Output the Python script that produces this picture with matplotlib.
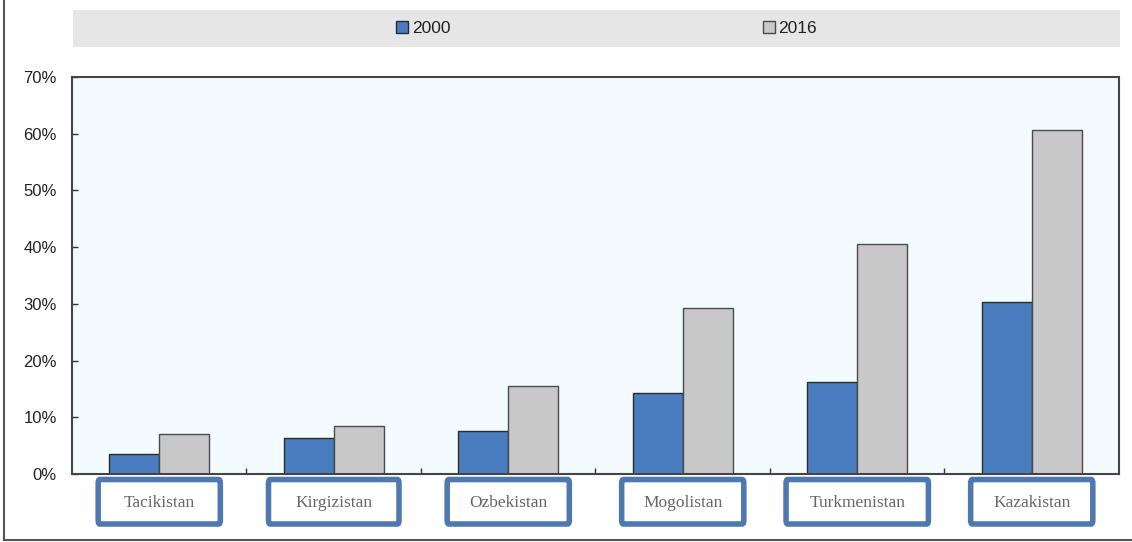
import matplotlib
matplotlib.use("Agg")
import matplotlib.pyplot as plt
import numpy as np
from matplotlib.patches import Rectangle, FancyBboxPatch
from matplotlib.lines import Line2D
from matplotlib.ticker import FuncFormatter

# Datos (%)
PAISES = ["Tacikistan", "Kirgizistan", "Ozbekistan", "Mogolistan", "Turkmenistan", "Kazakistan"]
V2000 = [3.6, 6.4, 7.6, 14.2, 16.3, 30.4]
V2016 = [7.1, 8.5, 15.6, 29.3, 40.5, 60.7]
SERIES = ["2000", "2016"]
YTICKS = [0, 10, 20, 30, 40, 50, 60, 70]

AZUL = "#4A7DC0"
GRIS = "#C8C8C8"
BORDE = "#4F79AE"
FONDO = "#F3FBFE"

plt.rcParams["font.family"] = ["Liberation Sans", "DejaVu Sans"]

fig = plt.figure(figsize=(11.32, 5.42), dpi=100)
ax = fig.add_axes([0.0636, 0.1255, 0.9249, 0.7325])
ax.set_facecolor(FONDO)

x = np.arange(len(PAISES))
w = 0.287
ax.bar(x - w / 2, V2000, w, color=AZUL, edgecolor="#2b2b2b", linewidth=1.0, label=SERIES[0])
ax.bar(x + w / 2, V2016, w, color=GRIS, edgecolor="#4a4a4a", linewidth=1.0, label=SERIES[1])

ax.set_xlim(-0.5, len(PAISES) - 0.5)
ax.set_ylim(0, 70)
ax.set_yticks(YTICKS)
ax.yaxis.set_major_formatter(FuncFormatter(lambda v, _: f"{v:.0f}%"))
ax.tick_params(axis="y", direction="in", length=4, width=1, color="#333333",
               labelsize=12, labelcolor="#222222", pad=11)
ax.set_xticks(x[:-1] + 0.5)
ax.set_xticklabels([])
ax.tick_params(axis="x", direction="in", length=4, width=1, color="#333333")
for s in ax.spines.values():
    s.set_color("#444444")
    s.set_linewidth(1.5)

# Etiquetas de categoria en cajas
for xi, nombre in zip(x, PAISES):
    bw = max(0.70, 0.068 * len(nombre))
    caja = FancyBboxPatch((xi - bw / 2, -0.126), bw, 0.112,
                          boxstyle="round,pad=0.0,rounding_size=0.01",
                          transform=ax.get_xaxis_transform(), clip_on=False,
                          facecolor="white", edgecolor=BORDE, linewidth=4)
    ax.add_patch(caja)
    ax.text(xi, -0.072, nombre, transform=ax.get_xaxis_transform(), ha="center", va="center",
            fontsize=12.5, color="#666666", family="Liberation Serif")

# Banda de leyenda
fig.patches.append(Rectangle((73 / 1132, 1 - 47 / 542), (1120 - 73) / 1132, 37 / 542,
                             transform=fig.transFigure, facecolor="#E6E6E6",
                             edgecolor="none", zorder=0))
h, l = ax.get_legend_handles_labels()
leg = fig.legend(h, l, loc="center", bbox_to_anchor=(0.536, 0.948), ncol=2, frameon=False,
                 handlelength=0.7, handleheight=0.7, handletextpad=0.2, columnspacing=18.0,
                 fontsize=12.5)
for t in leg.get_texts():
    t.set_color("#222222")

# Marco exterior (izquierda y abajo)
fig.add_artist(Line2D([4 / 1132, 4 / 1132], [2 / 542, 1], transform=fig.transFigure,
                      color="#555555", linewidth=1.5))
fig.add_artist(Line2D([4 / 1132, 1], [2 / 542, 2 / 542], transform=fig.transFigure,
                      color="#555555", linewidth=1.5))

fig.savefig("out.png", dpi=100)
